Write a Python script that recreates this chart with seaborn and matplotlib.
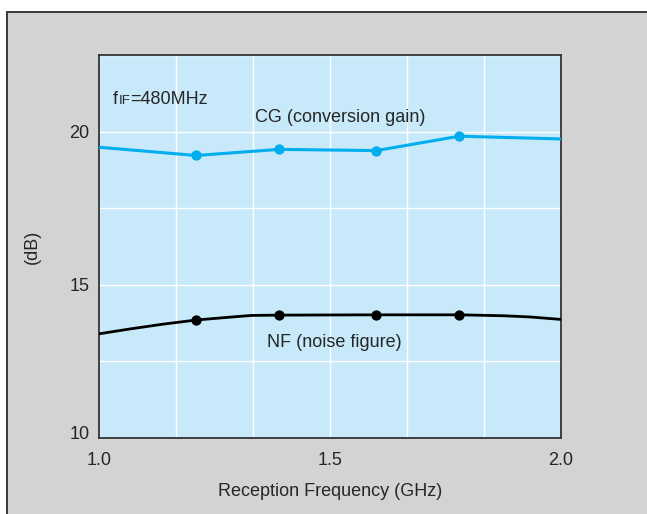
import matplotlib
matplotlib.use('Agg')
import matplotlib.pyplot as plt
import matplotlib.transforms as mtransforms
from matplotlib.patches import Rectangle
import numpy as np
import pandas as pd
import seaborn as sns

# values
cg_freq = [1.0, 1.21, 1.39, 1.60, 1.78, 2.0]
cg_db = [19.49, 19.22, 19.42, 19.38, 19.85, 19.76]
cg_marker_freq = [1.21, 1.39, 1.60, 1.78]
cg_marker_db = [19.22, 19.42, 19.38, 19.85]

nf_freq = [1.0, 1.063, 1.136, 1.21, 1.28, 1.33, 1.39, 1.60, 1.78, 1.875, 1.933, 2.0]
nf_db = [13.40, 13.55, 13.71, 13.85, 13.94, 14.00, 14.01, 14.02, 14.02, 13.99, 13.95, 13.87]
nf_marker_freq = [1.21, 1.39, 1.60, 1.78]
nf_marker_db = [13.85, 14.01, 14.02, 14.02]

x_ticks = [1.0, 1.5, 2.0]
x_tick_labels = ['1.0', '1.5', '2.0']
y_ticks = [10, 15, 20]
y_tick_labels = ['10', '15', '20']

sns.set_style('white')
plt.rcParams['font.family'] = ['Liberation Sans', 'DejaVu Sans']
plt.rcParams['font.size'] = 13

panel_gray = '#d1d3d4'
plot_blue = '#c7e9f9'
cg_blue = '#00aeef'

fig = plt.figure(figsize=(6.47, 5.14), dpi=100, facecolor='white')
# gray panel with a dark frame on the top and left
fig.add_artist(Rectangle((7 / 647, -0.05), 1.1, 1 - 12 / 514 + 0.05,
                         transform=fig.transFigure, facecolor=panel_gray,
                         edgecolor='#3a3a3a', linewidth=1.4, zorder=-10))

ax = fig.add_axes([99 / 647, 1 - 438 / 514, 462 / 647, 383 / 514])
ax.set_facecolor(plot_blue)

cg = pd.DataFrame({'freq': cg_freq, 'db': cg_db})
nf = pd.DataFrame({'freq': nf_freq, 'db': nf_db})
cg_pts = pd.DataFrame({'freq': cg_marker_freq, 'db': cg_marker_db})
nf_pts = pd.DataFrame({'freq': nf_marker_freq, 'db': nf_marker_db})

sns.lineplot(data=cg, x='freq', y='db', color=cg_blue, linewidth=2.2, ax=ax, zorder=3)
sns.scatterplot(data=cg_pts, x='freq', y='db', color=cg_blue, s=55, edgecolor=cg_blue,
                linewidth=0, ax=ax, zorder=4)
sns.lineplot(data=nf, x='freq', y='db', color='black', linewidth=2.0, ax=ax, zorder=3)
sns.scatterplot(data=nf_pts, x='freq', y='db', color='black', s=55, edgecolor='black',
                linewidth=0, ax=ax, zorder=4)

ax.set_xlim(1.0, 2.0)
ax.set_ylim(10, 22.5)

# white grid: every 1/6 GHz and every 2.5 dB
ax.set_xticks(np.arange(1, 6) / 6 + 1.0, minor=True)
ax.set_yticks([12.5, 17.5, 22.5], minor=True)
ax.set_xticks(x_ticks)
ax.set_xticklabels(x_tick_labels)
ax.set_yticks(y_ticks)
ax.set_yticklabels(y_tick_labels)
ax.grid(True, which='both', color='white', linewidth=1.0)
ax.set_axisbelow(True)
ax.tick_params(which='both', length=0)
ax.tick_params(axis='x', pad=10)
ax.tick_params(axis='y', pad=7)

# nudge the bottom "10" up a little, as in the reference
lbl10 = ax.get_yticklabels()[0]
lbl10.set_transform(lbl10.get_transform() + mtransforms.ScaledTranslation(0, 6 / 100, fig.dpi_scale_trans))

for s in ax.spines.values():
    s.set_color('#333333')
    s.set_linewidth(1.3)

ax.set_xlabel('Reception Frequency (GHz)', labelpad=10)
ax.set_ylabel('(dB)', labelpad=20)

# f_IF label: small "IF" sitting on the same baseline as "f"
base_y = 20.9
t1 = ax.text(1.03, base_y, 'f', va='baseline', ha='left', fontsize=13)
t2 = ax.annotate('IF', xy=(1, base_y), xycoords=(t1, 'data'), va='baseline', ha='left',
                 fontsize=9.5, xytext=(0.5, 0), textcoords='offset points')
ax.annotate('=480MHz', xy=(1, base_y), xycoords=(t2, 'data'), va='baseline', ha='left',
            fontsize=13)

ax.text(1.522, 20.45, 'CG (conversion gain)', ha='center', va='center', fontsize=13)
ax.text(1.509, 13.13, 'NF (noise figure)', ha='center', va='center', fontsize=13)

fig.savefig('out.png', dpi=100, facecolor=fig.get_facecolor())
